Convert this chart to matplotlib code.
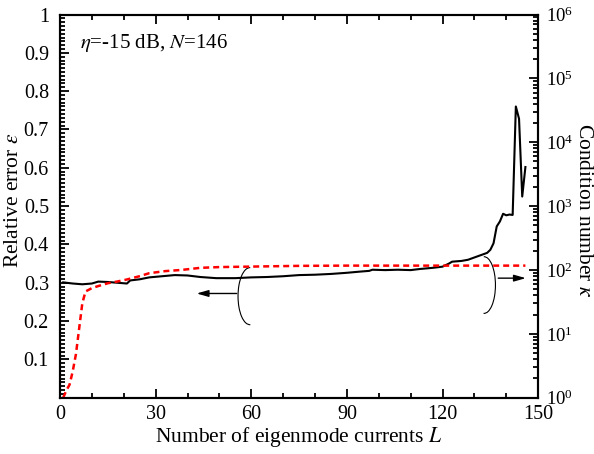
import matplotlib
matplotlib.use("Agg")
from matplotlib import pyplot as plt
from matplotlib import ticker
from matplotlib.patches import Arc

plt.rcParams['font.family'] = ['Liberation Serif', 'DejaVu Serif']
plt.rcParams['mathtext.fontset'] = 'stix'

# relative error (left axis)
L_err = [1, 4, 7, 10, 12, 15, 18, 21, 22, 25, 28, 32, 36, 40, 44, 49, 55, 60, 65, 70,
         75, 80, 85, 90, 94, 97, 98, 102, 106, 110, 113, 117, 120, 122, 123, 126, 128,
         130, 132, 134, 135, 136, 137, 138, 139, 140, 141, 142, 143, 144, 145, 146]
err = [0.301, 0.298, 0.296, 0.298, 0.303, 0.302, 0.300, 0.298, 0.306, 0.309, 0.314,
       0.317, 0.320, 0.319, 0.315, 0.312, 0.312, 0.314, 0.315, 0.317, 0.320, 0.321,
       0.323, 0.326, 0.329, 0.331, 0.334, 0.333, 0.334, 0.333, 0.336, 0.339, 0.342,
       0.350, 0.355, 0.357, 0.360, 0.366, 0.372, 0.378, 0.386, 0.403, 0.447, 0.460,
       0.480, 0.476, 0.478, 0.477, 0.760, 0.728, 0.525, 0.602]

# condition number (right axis)
L_cond = [1, 2, 3, 4, 5, 6, 7, 8, 10, 12, 15, 18, 21, 25, 28, 33, 38, 44, 50, 60,
          75, 90, 110, 130, 146]
cond = [1.0, 1.3, 1.6, 2.6, 4.8, 12, 30, 46, 52, 56, 62, 66, 71, 80, 89, 96, 100,
        108, 111, 113, 116, 117, 117, 117, 117]

fig = plt.figure(figsize=(5.94, 4.54), dpi=100)
ax = fig.add_axes([0.101, 0.124, 0.805, 0.844])
ax2 = ax.twinx()

ax.plot(L_err, err, color='black', lw=1.5, zorder=3)
ax2.plot(L_cond, cond, color='red', lw=1.8, ls=(0, (2.4, 1.6)))

ax.set_xlim(0, 150)
ax.set_ylim(0, 1)
ax2.set_yscale('log')
ax2.set_ylim(1, 1e6)

ax.xaxis.set_major_locator(ticker.MultipleLocator(30))
ax.xaxis.set_minor_locator(ticker.MultipleLocator(10))
ax.yaxis.set_major_locator(ticker.MultipleLocator(0.1))
ax.yaxis.set_minor_locator(ticker.MultipleLocator(0.01))
ax.yaxis.set_major_formatter(ticker.FuncFormatter(
    lambda v, p: '' if v < 0.05 else ('1' if v > 0.95 else f'{v:.1f}')))
ax2.yaxis.set_major_locator(ticker.LogLocator(base=10, numticks=10))
ax2.yaxis.set_minor_locator(ticker.LogLocator(base=10, subs=range(2, 10), numticks=10))
ax2.yaxis.set_minor_formatter(ticker.NullFormatter())

ax.tick_params(which='both', direction='in', top=True, right=False, labelsize=14.5, width=1.3)
ax.tick_params(which='major', length=6.5)
ax.tick_params(which='minor', length=3.5)
ax.tick_params(axis='y', which='major', pad=8)
ax.tick_params(axis='x', which='major', pad=5)
ax2.tick_params(which='both', direction='in', labelsize=13.5, width=1.3)
ax2.tick_params(which='major', length=6.5, pad=6)
ax2.tick_params(which='minor', length=3.5)
for a in (ax, ax2):
    for s in a.spines.values():
        s.set_linewidth(1.5)

ax.set_xlabel('Number of eigenmode currents $L$', fontsize=15.5, va='center')
ax.xaxis.set_label_coords(0.5, -0.103)
ax.set_ylabel(r'Relative error $\varepsilon$', fontsize=15.5, va='center', ha='center')
ax.yaxis.set_label_coords(-0.098, 0.515)
ax2.set_ylabel(r'Condition number $\kappa$', fontsize=15.5, rotation=270, va='center', ha='center')
ax2.yaxis.set_label_coords(1.095, 0.49)

ax.text(6.3, 0.926, r'$\eta$=-15 dB, $N$=146', fontsize=15, va='center')

# curve markers
ax.add_patch(Arc((59.6, 0.265), 7.5, 0.149, theta1=45, theta2=325, lw=0.8, color='black'))
ax.annotate('', xy=(42, 0.272), xytext=(56.3, 0.272),
            arrowprops=dict(arrowstyle='-|>,head_length=0.7,head_width=0.2',
                            fc='black', ec='black', lw=1.0))
ax.add_patch(Arc((133, 0.294), 7.2, 0.148, theta1=-150, theta2=130, lw=0.8, color='black'))
ax.annotate('', xy=(147, 0.312), xytext=(136.6, 0.312),
            arrowprops=dict(arrowstyle='-|>,head_length=0.7,head_width=0.2',
                            fc='black', ec='black', lw=1.0))

plt.savefig('out.png', dpi=100)
plt.close()
